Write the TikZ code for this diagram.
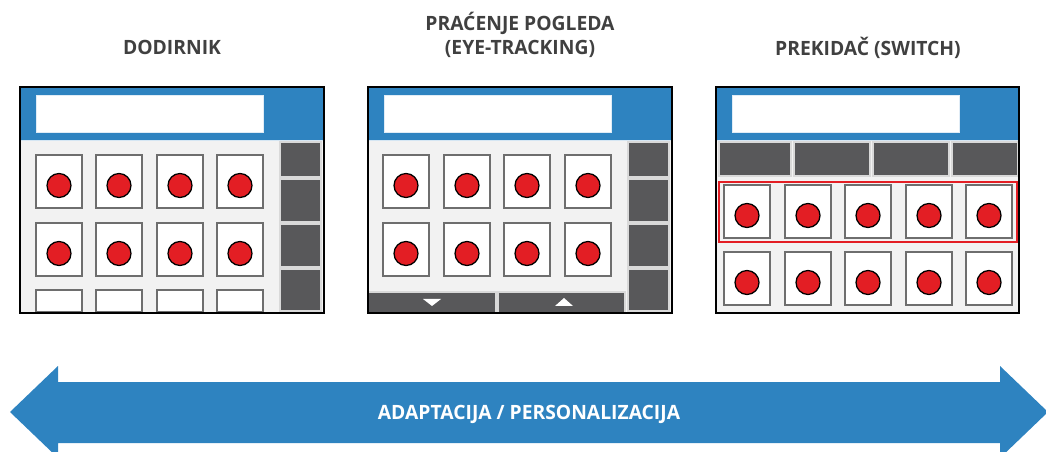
\documentclass[tikz,border=0pt]{standalone}
\usepackage{fontspec}
\setmainfont{Open Sans}[FakeStretch=0.98]
\usepackage{xcolor}
\usepackage{tikz}
\usetikzlibrary{calc,positioning}

\definecolor{hdrblue}{HTML}{2E83C0}
\definecolor{keygray}{HTML}{58585A}
\definecolor{bodygray}{HTML}{F2F2F2}
\definecolor{btnedge}{HTML}{6E6E6E}
\definecolor{dotred}{HTML}{E31E24}
\definecolor{titlegray}{HTML}{404040}

\tikzset{
  keybox/.style={draw=btnedge,fill=white,line width=1.3pt},
  keydot/.style={draw=black,fill=dotred,line width=0.9pt},
  darkkey/.style={draw=white!85!black,fill=keygray,line width=0.9pt},
  screen/.style={draw=black,line width=1.3pt},
  title/.style={text=titlegray,font=\fontsize{14}{17.5}\selectfont\bfseries,align=center,anchor=base}
}

% one key with its red dot, top-left corner at (#1,#2)
\newcommand{\keybtn}[2]{%
  \draw[keybox] (#1,#2) rectangle ++(46,53);
  \draw[keydot] ({#1+23},{#2+30.5}) circle[radius=12];}
% empty screen with blue header, left edge at #1
\newcommand{\screenhead}[1]{%
  \fill[bodygray] (#1,87) rectangle ++(303,226);
  \fill[hdrblue] (#1,87) rectangle ++(303,53);
  \draw[white!80!hdrblue,line width=0.6pt] (#1,140) -- ++(303,0);
  \draw[draw=white!85!hdrblue,fill=white,line width=0.6pt] ({#1+16},95) rectangle ++(227,37);}

\begin{document}
\begin{tikzpicture}[x=0.025cm,y=-0.025cm]
\useasboundingbox (0,0) rectangle (1046,452);
%%% Titles:
\node[title] (touch) at (172,55) {DODIRNIK};
\node[title] (gaze) at (520,55) {PRAĆENJE POGLEDA\\(EYE-TRACKING)};
\node[title] (switch) at (868,56) {PREKIDAČ (SWITCH)};
%%% First screen: touch
\screenhead{20}
\foreach \y [count=\i] in {142,179,224,269} {
  \pgfmathsetmacro\h{ifthenelse(\i==1,35,ifthenelse(\i==2,43,ifthenelse(\i==3,43,42)))}
  \draw[darkkey] (280,\y) rectangle ++(41,\h);
}
\foreach \x in {36,96,157,217} {
  \keybtn{\x}{155}
  \keybtn{\x}{223}
  \draw[keybox] (\x,290) rectangle ++(46,22);
}
\draw[screen] (20,87) rectangle (324,313);
%%% Second screen: eye-tracking
\screenhead{368}
\foreach \y [count=\i] in {142,179,224,269} {
  \pgfmathsetmacro\h{ifthenelse(\i==1,35,ifthenelse(\i==2,43,ifthenelse(\i==3,43,42)))}
  \draw[darkkey] (628,\y) rectangle ++(41,\h);
}
\foreach \x in {383,444,504,565} {
  \keybtn{\x}{155}
  \keybtn{\x}{223}
}
%% scroll bar
\draw[darkkey] (368,292) rectangle (496,313);
\draw[darkkey] (498,292) rectangle (625,313);
\fill[white] (423,299) -- (441,299) -- (432,306) -- cycle;
\fill[white] (555,306) -- (573,306) -- (564,298) -- cycle;
\draw[screen] (368,87) rectangle (672,313);
%%% Third screen: switch
\screenhead{716}
\draw[darkkey] (719,142) rectangle (791,176);
\draw[darkkey] (794,142) rectangle (870,176);
\draw[darkkey] (873,142) rectangle (949,176);
\draw[darkkey] (952,142) rectangle (1018,176);
\foreach \x in {724,785,845,906,966} {
  \keybtn{\x}{185}
  \keybtn{\x}{252}
}
%% scanned row
\draw[draw=dotred,line width=1.6pt] (719,182) rectangle (1017,242);
\draw[screen] (716,87) rectangle (1019,313);
%%% Arrow:
\fill[hdrblue] (10,412) -- (58,366) -- (58,382) -- (1000,382) -- (1000,366) -- (1048,412)
  -- (1000,458) -- (1000,443) -- (58,443) -- (58,458) -- cycle;
\node[text=white,font=\fontsize{14}{17}\selectfont\bfseries,anchor=base] (adapt) at (529,419) {ADAPTACIJA / PERSONALIZACIJA};
\end{tikzpicture}
\end{document}
